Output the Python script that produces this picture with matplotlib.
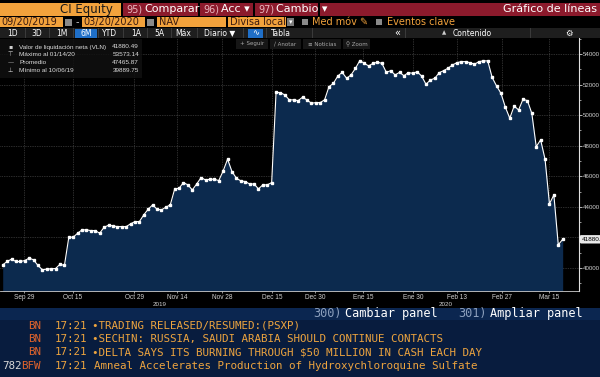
import matplotlib
matplotlib.use("Agg")
import matplotlib.pyplot as plt
from matplotlib.patches import Rectangle
from matplotlib.transforms import blended_transform_factory
import numpy as np

# ---------------- data ----------------
nav_values = [
    40210, 40430, 40580, 40430, 40430, 40490, 40650, 40540, 40170, 39890,
    39930, 39950, 39970, 40250, 40170, 42020, 42020, 42280, 42500, 42500,
    42450, 42450, 42280, 42670, 42800, 42760, 42710, 42710, 42710, 42890,
    43040, 43040, 43480, 43850, 44130, 43850, 43800, 43980, 44130, 45160,
    45220, 45590, 45440, 45110, 45500, 45920, 45760, 45810, 45810, 45720,
    46350, 47120, 46310, 45880, 45700, 45660, 45500, 45500, 45180, 45440,
    45440, 45590, 51500, 51470, 51320, 51000, 51000, 50950, 51170, 51000,
    50780, 50820, 50820, 51000, 51860, 52080, 52560, 52800, 52410, 52630,
    53060, 53573.14, 53390, 53220, 53390, 53460, 53390, 52800, 52910, 52630,
    52800, 52580, 52780, 52740, 52840, 52560, 52020, 52300, 52410, 52780,
    52910, 53070, 53280, 53430, 53500, 53500, 53430, 53330, 53500, 53550,
    53550, 52470, 51910, 51430, 50520, 49800, 50600, 50340, 51040, 50950,
    50120, 47940, 48380, 47120, 44200, 44780, 41520, 41880.49,
]
x_tick_labels = ["Sep 29", "Oct 15", "Oct 29", "Nov 14", "Nov 28", "Dec 15",
                 "Dec 30", "Ene 15", "Ene 30", "Feb 13", "Feb 27", "Mar 15"]
x_tick_index = [4.8, 15.9, 29.8, 39.5, 49.7, 61.1, 70.8, 81.7, 93.0, 103.0, 113.2, 123.9]
y_ticks = [40000, 42000, 44000, 46000, 48000, 50000, 52000, 54000]
y_tick_labels = ["40000", "", "44000", "46000", "48000", "50000", "52000", "54000"]
legend_rows = [("\u25aa", "Valor de liquidación neta (VLN)", "41880.49"),
               ("\u22a4", "Máximo al 01/14/20", "53573.14"),
               ("\u2014", "Promedio", "47465.87"),
               ("\u22a5", "Mínimo al 10/06/19", "39889.75")]
news_lines = [
    ("", "BN", "17:21", "\u2022TRADING RELEASED/RESUMED:(PSXP)"),
    ("", "BN", "17:21", "\u2022SECHIN: RUSSIA, SAUDI ARABIA SHOULD CONTINUE CONTACTS"),
    ("", "BN", "17:21", "\u2022DELTA SAYS ITS BURNING THROUGH $50 MILLION IN CASH EACH DAY"),
    ("782", "BFW", "17:21", "Amneal Accelerates Production of Hydroxychloroquine Sulfate"),
]

# ---------------- figure ----------------
W, H = 600, 377
fig = plt.figure(figsize=(6.0, 3.77), dpi=100, facecolor="black")
SANS = ["Liberation Sans", "DejaVu Sans"]

def fx(x):
    return x / W

def fy(y):
    return 1 - y / H

def rect(x0, y0, x1, y1, color, z=1, alpha=1.0):
    fig.patches.append(Rectangle((fx(x0), fy(y1)), (x1 - x0) / W, (y1 - y0) / H,
                                 transform=fig.transFigure, facecolor=color,
                                 edgecolor="none", zorder=z, alpha=alpha))

def txt(x, y, s, size=7, color="white", ha="left", family="DejaVu Sans", **kw):
    fig.text(fx(x), fy(y), s, fontsize=size, color=color, ha=ha, va="center",
             family=family, zorder=10, **kw)

# ---------------- main chart ----------------
top_px, bot_px, right_px = 38, 291, 579
ax = fig.add_axes([0, 1 - bot_px / H, right_px / W, (bot_px - top_px) / H])
ax.set_facecolor("black")
idx = np.arange(len(nav_values))
ymin, ymax = 38500, 55046
ax.fill_between(idx, nav_values, ymin, color="#0c2a4e", zorder=2, linewidth=0)
ax.plot(idx, nav_values, color="white", lw=0.8, marker="s", ms=1.6,
        mfc="white", mec="white", zorder=3)
ax.set_xlim(-0.61, 130.7)
ax.set_ylim(ymin, ymax)

ax.set_xticks(x_tick_index)
ax.set_xticklabels(x_tick_labels, family=SANS)
ax.set_yticks(y_ticks)
ax.set_yticklabels(y_tick_labels, family=SANS)
ax.set_yticks(np.arange(39000, 55001, 1000), minor=True)
ax.yaxis.tick_right()
ax.tick_params(axis="y", which="major", direction="out", length=2, width=0.6,
               pad=1, labelsize=4.4, colors="#d0d0d0")
ax.tick_params(axis="y", which="minor", direction="out", length=1.2, width=0.5,
               colors="#d0d0d0")
ax.tick_params(axis="x", direction="inout", length=2.5, width=0.5, pad=0.8,
               labelsize=4.7, colors="#d0d0d0")
ax.grid(True, which="major", color="#5a5a5a", lw=0.5, ls=(0, (1, 1.5)), zorder=1)
for s in ["top", "left"]:
    ax.spines[s].set_visible(False)
ax.spines["right"].set_color("#e0e0e0")
ax.spines["right"].set_linewidth(0.8)
ax.spines["bottom"].set_color("#cfcfcf")
ax.spines["bottom"].set_linewidth(0.6)

# last value tag (cut by the right edge, as in the terminal)
bt = blended_transform_factory(ax.transAxes, ax.transData)
ax.text(1.004, nav_values[-1], "41880.", transform=bt, fontsize=4.6,
        family=SANS, color="black", va="center", ha="left", clip_on=False,
        zorder=20,
        bbox=dict(boxstyle="round,pad=0.2", fc="#e6e6e6", ec="white", lw=0.5))

# year labels
txt(160, 304.5, "2019", size=4.5, color="#d0d0d0", ha="center", family=SANS)
txt(446, 304.5, "2020", size=4.5, color="#d0d0d0", ha="center", family=SANS)

# legend box
rect(0, 39, 142, 78, "#101010", z=5, alpha=0.85)
for i, (sym, lab, val) in enumerate(legend_rows):
    yy = 47 + i * 8
    txt(8, yy, sym, size=4.4, color="#cfcfcf")
    txt(19, yy, lab, size=4.6, color="#dcdcdc", family=SANS)
    txt(139, yy, val, size=4.6, color="#dcdcdc", ha="right", family=SANS)

# chart buttons
for x0, x1, s in [(236, 268, "+ Seguir"), (270, 301, "\u2215 Anotar"),
                  (303, 341, "\u2261 Noticias"), (343, 370, "\u26b2 Zoom")]:
    rect(x0, 39, x1, 49, "#161616", z=5)
    txt((x0 + x1) / 2, 44, s, size=4.0, color="#a8a8a8", ha="center")

# ---------------- header ----------------
ORANGE = "#f2a23c"
RED = "#8c1a2c"
# row 1
rect(0, 3, 121, 16, ORANGE, z=2)
txt(113, 9.5, "CI Equity", size=8.5, color="#1a1a1a", ha="right")
rect(123, 3, 198, 16, RED, z=2)
txt(126, 9.5, "95)", size=7, color="#e9b7bf")
txt(144, 9.5, "Comparar", size=8, color="white")
rect(200, 3, 253, 16, RED, z=2)
txt(203, 9.5, "96)", size=7, color="#e9b7bf")
txt(221, 9.5, "Acc \u25be", size=8, color="white")
rect(255, 3, 318, 16, RED, z=2)
txt(258, 9.5, "97)", size=7, color="#e9b7bf")
txt(276, 9.5, "Cambio \u25be", size=8, color="white")
rect(320, 3, 600, 16, RED, z=2)
txt(597, 9.5, "Gráfico de líneas", size=8, color="white", ha="right")

# row 2
rect(0, 17, 63, 27, ORANGE, z=2)
txt(1, 22, "09/20/2019", size=7, color="#3a1a10")
rect(65, 18.5, 72, 25.5, "#8a8a8a", z=2)
txt(77, 22, "-", size=7, color="#cccccc", ha="center")
rect(82, 17, 145, 27, ORANGE, z=2)
txt(83, 22, "03/20/2020", size=7, color="#3a1a10")
rect(147, 18.5, 154, 25.5, "#8a8a8a", z=2)
rect(157, 17, 226, 27, ORANGE, z=2)
txt(159, 22, "NAV", size=7, color="#3a1a10")
rect(228, 17, 286, 27, ORANGE, z=2)
txt(230, 22, "Divisa local", size=7, color="#3a1a10")
rect(287, 18, 294, 26, "#7a7a7a", z=2)
txt(290.5, 22, "\u25be", size=5, color="white", ha="center")
rect(302, 19, 308, 25, "#8a8a8a", z=2)
txt(312, 22, "Med móv \u270e", size=7, color=ORANGE)
rect(376, 19, 382, 25, "#8a8a8a", z=2)
txt(387, 22, "Eventos clave", size=7, color=ORANGE)

# row 3 toolbar
rect(0, 28, 600, 38, "#1e1e1e", z=2)
for xs in [25, 49, 73, 98, 123, 147, 171, 197, 243, 266, 312, 405, 530]:
    rect(xs, 28, xs + 0.6, 38, "#3a3a3a", z=3)
rect(75, 28.5, 97, 37.5, "#1f6fc8", z=3)
for x, s in [(13, "1D"), (37, "3D"), (62, "1M"), (86, "6M"), (110, "YTD"),
             (136, "1A"), (159, "5A"), (183, "Máx")]:
    txt(x, 33, s, size=5.5, color="white", ha="center")
txt(204, 33, "Diario \u25bc", size=5.5, color="white")
rect(248, 28.5, 263, 37.5, "#1f6fc8", z=3)
txt(255.5, 33, "\u223f", size=6, color="white", ha="center")
txt(271, 33, "Tabla", size=5.5, color="white")
txt(397, 32.5, "\u00ab", size=7, color="white", ha="center")
txt(444, 33, "\u25b2", size=4, color="#cccccc", ha="center")
txt(453, 33, "Contenido", size=5.5, color="white")
txt(569, 33, "\u2699", size=6, color="white", ha="center")

# ---------------- bottom panel ----------------
rect(0, 308, 600, 320, "#0b2650", z=1)
rect(0, 320, 600, 377, "#081c3e", z=1)
MONO = "DejaVu Sans Mono"
txt(313, 314, "300)", size=8.6, color="#8da0bd", family=MONO)
txt(345, 314, "Cambiar panel", size=8.6, color="white", family=MONO)
txt(458, 314, "301)", size=8.6, color="#8da0bd", family=MONO)
txt(490, 314, "Ampliar panel", size=8.6, color="white", family=MONO)

AMBER = "#eda43e"
REDOR = "#e2642c"
for i, (num, src, tm, msg) in enumerate(news_lines):
    yy = 326 + i * 13.2
    if num:
        txt(2, yy, num, size=7.8, color="#d8d8d8", family=MONO)
    txt(28 if src == "BN" else 21, yy, src, size=7.8, color=REDOR, family=MONO)
    txt(55, yy, tm, size=7.8, color=AMBER, family=MONO)
    txt(92 if msg.startswith("\u2022") else 94, yy, msg, size=7.8, color=AMBER, family=MONO)

fig.savefig("out.png", dpi=100, facecolor="black")
